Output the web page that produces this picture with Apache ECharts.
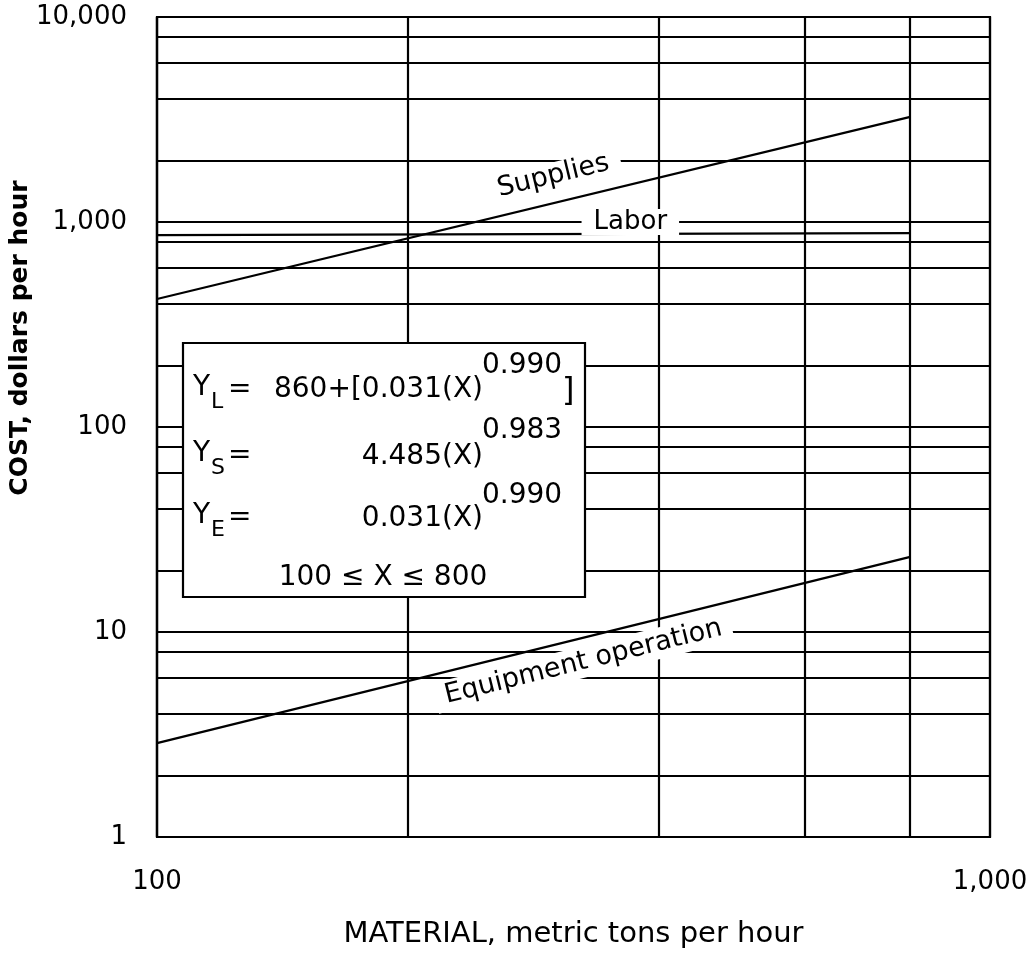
<!DOCTYPE html>
<html><head><meta charset="utf-8">
<script src="https://cdn.jsdelivr.net/npm/echarts@6/dist/echarts.min.js"></script>
<style>html,body{margin:0;padding:0;background:#fff}#c{width:1035px;height:954px}</style>
</head><body><div id="c"></div>
<script>
// ---- data ----
const xRange = [100, 800];            // X (metric tons per hour) at each line's ends
const labor = [863, 883];             // dollars per hour
const supplies = [421, 3250];
const equipment = [2.87, 23.2];
const yMinorGrid = [2, 4, 6, 8, 20, 40, 60, 80, 200, 400, 600, 800, 2000, 4000, 6000, 8000];
const xMinorGrid = [200, 400, 600, 800];
const yTickValues = [1, 10, 100, 1000, 10000];
const xTickValues = [100, 1000];

const F = 'DejaVu Sans';
const fmt = v => String(Math.round(v)).replace(/\B(?=(\d{3})+(?!\d))/g, ',');
const chart = echarts.init(document.getElementById('c'), null, {renderer: 'canvas'});

const mkSeries = (name, vals) => ({
  name, type: 'line', silent: true, symbol: 'none', showSymbol: false, z: 5,
  data: xRange.map((x, i) => [x, vals[i]]),
  lineStyle: {color: '#000', width: 2.2}
});

chart.setOption({
  animation: false,
  backgroundColor: '#fff',
  textStyle: {fontFamily: F},
  grid: {left: 157, right: 45, top: 17, bottom: 117, show: true, borderColor: '#000', borderWidth: 2.2},
  xAxis: {
    type: 'log', logBase: 10, min: xTickValues[0], max: xTickValues[xTickValues.length - 1],
    axisLine: {lineStyle: {color: '#000', width: 2.2}},
    axisTick: {show: false},
    splitLine: {show: true, lineStyle: {color: '#000', width: 2.2}},
    axisLabel: {color: '#000', fontSize: 26, fontFamily: F, margin: 32, formatter: fmt},
    name: 'MATERIAL, metric tons per hour', nameLocation: 'middle', nameGap: 83,
    nameTextStyle: {color: '#000', fontSize: 29, fontFamily: F}
  },
  yAxis: {
    type: 'log', logBase: 10, min: yTickValues[0], max: yTickValues[yTickValues.length - 1], splitNumber: 4,
    axisLine: {lineStyle: {color: '#000', width: 2.2}},
    axisTick: {show: false},
    splitLine: {show: true, lineStyle: {color: '#000', width: 2.2}},
    axisLabel: {color: '#000', fontSize: 26, fontFamily: F, margin: 30, formatter: fmt}
  },
  series: [
    {
      type: 'line', silent: true, symbol: 'none', z: 1,
      data: [[xTickValues[0], yTickValues[0]]], lineStyle: {opacity: 0},
      markLine: {
        silent: true, symbol: ['none', 'none'], label: {show: false},
        lineStyle: {color: '#000', width: 2.2, type: 'solid'},
        data: [...yMinorGrid.map(v => ({yAxis: v})), ...xMinorGrid.map(v => ({xAxis: v}))]
      }
    },
    mkSeries('Labor', labor),
    mkSeries('Supplies', supplies),
    mkSeries('Equipment operation', equipment)
  ]
});

const px = (x, y) => chart.convertToPixel({gridIndex: 0}, [x, y]);
const slope = vals => {
  const a = px(xRange[0], vals[0]), b = px(xRange[1], vals[1]);
  return Math.atan2(a[1] - b[1], b[0] - a[0]);
};
const lineText = (text, pos, rot, fs, pad) => ({
  type: 'text', x: pos[0], y: pos[1], rotation: rot, z: 60, silent: true,
  style: {text, fill: '#000', font: fs + 'px "DejaVu Sans"', align: 'center', verticalAlign: 'middle',
          backgroundColor: '#fff', padding: pad}
});
const t = (text, x, y, align, fs) => ({
  type: 'text', x, y, z: 81, silent: true,
  style: {text, fill: '#000', font: fs + 'px "DejaVu Sans"', align, verticalAlign: 'middle'}
});

const graphics = [
  lineText('Supplies', px(299, 1676), slope(supplies), 27, [0, 12]),
  lineText('Labor', px(370, 1000), 0, 26, [0, 12]),
  lineText('Equipment operation', px(325, 7.14), slope(equipment), 27, [2, 10]),
  {type: 'text', x: 20, y: 338, rotation: Math.PI / 2, z: 60, silent: true,
   style: {text: 'COST, dollars per hour', fill: '#000', font: 'bold 25px "DejaVu Sans"', align: 'center', verticalAlign: 'middle'}},
  {type: 'rect', z: 80, silent: true, shape: {x: 183, y: 343, width: 402, height: 254},
   style: {fill: '#fff', stroke: '#000', lineWidth: 2.2}},
  // Y_L
  t('Y', 193, 388, 'left', 28), t('L', 211, 402, 'left', 22), t('=', 228, 390, 'left', 28),
  t('860+[0.031(X)', 483, 390, 'right', 28), t('0.990', 482, 366, 'left', 28), t(']', 562, 392, 'left', 32),
  // Y_S
  t('Y', 193, 454, 'left', 28), t('S', 211, 468, 'left', 22), t('=', 228, 456, 'left', 28),
  t('4.485(X)', 483, 457, 'right', 28), t('0.983', 482, 431, 'left', 28),
  // Y_E
  t('Y', 193, 516, 'left', 28), t('E', 211, 530, 'left', 22), t('=', 228, 518, 'left', 28),
  t('0.031(X)', 483, 519, 'right', 28), t('0.990', 482, 496, 'left', 28),
  t('100 ≤ X ≤ 800', 383, 578, 'center', 28)
];
chart.setOption({graphic: graphics});
</script>
</body></html>
